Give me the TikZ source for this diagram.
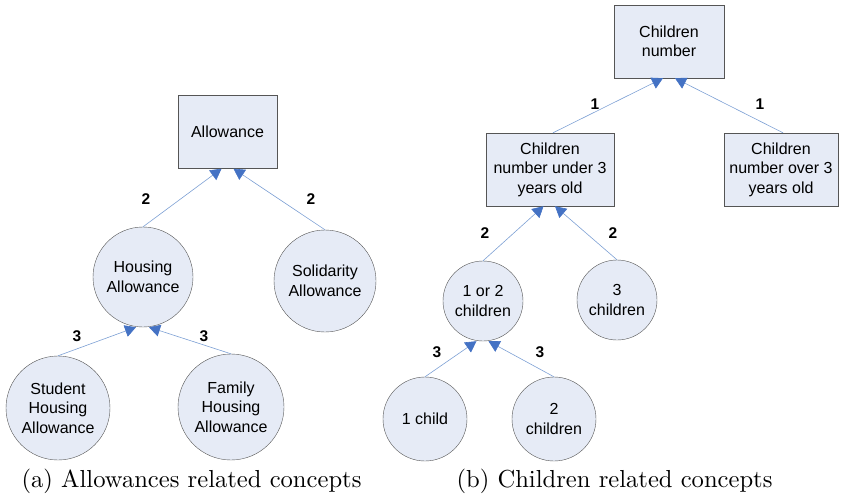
\documentclass[tikz,border=0pt]{standalone}
\usepackage{fontspec}
\newfontfamily\diagfont{Liberation Sans}
\usetikzlibrary{arrows.meta}
\definecolor{conceptfill}{RGB}{230,235,246}
\definecolor{conceptdraw}{RGB}{85,85,85}
\definecolor{linkline}{RGB}{125,160,212}
\definecolor{linktip}{RGB}{68,114,196}
\begin{document}
\begin{tikzpicture}[x=1pt, y=-1pt,
    concept/.style={draw=conceptdraw, fill=conceptfill, align=center, inner sep=2pt,
      font=\diagfont\fontsize{16}{19.5}\selectfont},
    conceptbox/.style={concept, rectangle, minimum width=#1, minimum height=73pt},
    conceptcirc/.style={concept, circle, minimum size=#1},
    link/.style={draw=linkline, line width=0.6pt, -{Triangle[length=11pt,width=12pt,color=linktip]}},
    weight/.style={font=\diagfont\fontsize{15.5}{19}\selectfont\bfseries},
    caption/.style={scale=2.46, transform shape}]
  \useasboundingbox (0,0) rectangle (842,499);
  \node[conceptbox=99pt] (allowance) at (227.5,132) {Allowance};
  \node[conceptcirc=100pt] (housing) at (143,277) {Housing\\Allowance};
  \node[conceptcirc=102pt] (solidarity) at (325,281) {Solidarity\\Allowance};
  \node[conceptcirc=104pt] (student) at (58,408) {Student\\Housing\\Allowance};
  \node[conceptcirc=106pt] (family) at (231,407) {Family\\Housing\\Allowance};
  \draw[link] (housing.north) -- ([xshift=-6pt]allowance.south);
  \draw[link] (solidarity.north) -- ([xshift=6pt]allowance.south);
  \draw[link] (student.north) -- ([xshift=-7pt]housing.south);
  \draw[link] (family.north) -- ([xshift=6pt]housing.south);
  \node[weight] (wa1) at (146,199) {2};
  \node[weight] (wa2) at (311,199) {2};
  \node[weight] (wa3) at (77,336) {3};
  \node[weight] (wa4) at (204,336) {3};
  \node[caption] (capa) at (191.5,481) {(a) Allowances related concepts};

  \node[conceptbox=110pt] (childnum) at (669,41.5) {Children\\number};
  \node[conceptbox=128pt] (under) at (550,169.5) {Children\\number under 3\\years old};
  \node[conceptbox=114pt] (over) at (781,169.5) {Children\\number over 3\\years old};
  \node[conceptcirc=80pt] (onetwo) at (483,301) {1 or 2\\children};
  \node[conceptcirc=80pt] (three) at (617,300) {3\\children};
  \node[conceptcirc=84pt] (one) at (425,419) {1 child};
  \node[conceptcirc=84pt] (two) at (554,419) {2\\children};
  \draw[link] ([xshift=3pt]under.north) -- ([xshift=-6pt]childnum.south);
  \draw[link] ([xshift=2pt]over.north) -- ([xshift=6pt]childnum.south);
  \draw[link] (onetwo.north) -- ([xshift=-6.5pt]under.south);
  \draw[link] (three.north) -- ([xshift=5pt]under.south);
  \draw[link] (one.north) -- ([xshift=-6.5pt]onetwo.south);
  \draw[link] (two.north) -- ([xshift=5.5pt]onetwo.south);
  \node[weight] (wb1) at (595,104) {1};
  \node[weight] (wb2) at (760,104) {1};
  \node[weight] (wb3) at (485,233) {2};
  \node[weight] (wb4) at (613,233) {2};
  \node[weight] (wb5) at (437,352) {3};
  \node[weight] (wb6) at (540,352) {3};
  \node[caption] (capb) at (614.5,481) {(b) Children related concepts};
\end{tikzpicture}
\end{document}
